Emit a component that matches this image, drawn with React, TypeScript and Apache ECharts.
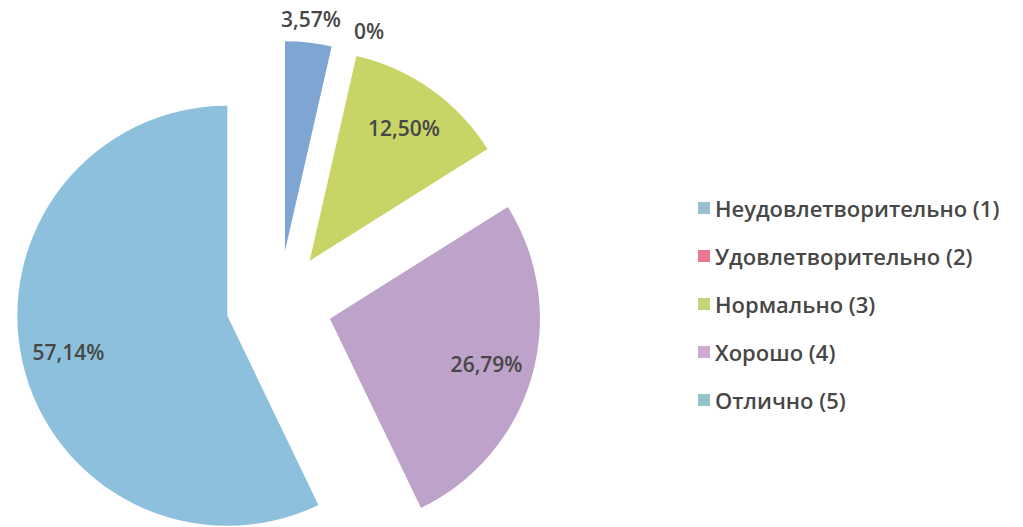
import React, { useEffect, useRef } from "react";
import * as echarts from "echarts";

const categories = [
  "Неудовлетворительно (1)",
  "Удовлетворительно (2)",
  "Нормально (3)",
  "Хорошо (4)",
  "Отлично (5)",
];
const counts = [2, 0, 7, 15, 32];
const colors = ["#7fa6d2", "#e27d93", "#c8d466", "#bda2c9", "#8dc0dc"];
const legendColors = ["#9bbdd0", "#e8788e", "#c2d678", "#cfaad0", "#92c4ca"];
const insideLabelIdx = [2, 3, 4];
const outsideLabelIdx = [0, 1];

const fmt = (p: any) => {
  const v = p.value as number;
  const total = counts.reduce((a, b) => a + b, 0);
  if (v === 0) return "0%";
  return ((v / total) * 100).toFixed(2).replace(".", ",") + "%";
};

export default function App() {
  const ref = useRef<HTMLDivElement>(null);
  useEffect(() => {
    document.body.style.margin = "0";
    const chart = echarts.init(ref.current!, null, { renderer: "svg" });
    const center = [279, 304];
    const offset = 53;
    const labelStyle = {
      fontFamily: "Open Sans",
      fontSize: 21,
      fontWeight: 600,
      color: "#474747",
    };
    const mkData = (labelIdx: number[] | null, transparent: boolean) =>
      categories.map((name, i) => ({
        name,
        value: counts[i],
        selected: true,
        itemStyle: { color: transparent ? "rgba(0,0,0,0)" : colors[i] },
        label: { show: labelIdx ? labelIdx.includes(i) : false },
      }));
    chart.setOption({
      animation: false,
      legend: {
        orient: "vertical",
        left: 693,
        top: 192,
        icon: "rect",
        itemWidth: 12,
        itemHeight: 12,
        itemGap: 26,
        textStyle: {
          fontFamily: "Open Sans",
          fontSize: 22,
          fontWeight: 600,
          lineHeight: 22,
          color: "#474747",
          padding: [0, 0, 0, 0],
        },
        data: categories.map((name, i) => ({
          name,
          itemStyle: { color: legendColors[i] },
        })),
      },
      series: [
        {
          type: "pie",
          center,
          radius: [0, 210],
          startAngle: 90,
          clockwise: true,
          selectedMode: "multiple",
          selectedOffset: offset,
          avoidLabelOverlap: false,
          label: { show: false },
          labelLine: { show: false },
          emphasis: { disabled: true },
          data: mkData(null, false),
        },
        {
          type: "pie",
          center,
          radius: [110, 210],
          startAngle: 90,
          selectedMode: "multiple",
          selectedOffset: offset,
          silent: true,
          avoidLabelOverlap: false,
          legendHoverLink: false,
          label: { position: "inside", formatter: fmt, ...labelStyle },
          labelLine: { show: false },
          emphasis: { disabled: true },
          data: mkData(insideLabelIdx, true),
        },
        {
          type: "pie",
          center,
          radius: [200, 262],
          startAngle: 90,
          minAngle: 1,
          selectedMode: "multiple",
          selectedOffset: offset,
          silent: true,
          avoidLabelOverlap: false,
          legendHoverLink: false,
          label: { position: "inside", formatter: fmt, ...labelStyle },
          labelLine: { show: false },
          labelLayout: (p: any) => (counts[p.dataIndex] === 0 ? { dx: 24, dy: 6 } : {}),
          emphasis: { disabled: true },
          data: mkData(outsideLabelIdx, true),
        },
      ],
    });
    return () => chart.dispose();
  }, []);
  return (
    <div
      ref={ref}
      style={{ position: "fixed", left: 0, top: 0, width: 1023, height: 527, background: "#fff" }}
    />
  );
}
